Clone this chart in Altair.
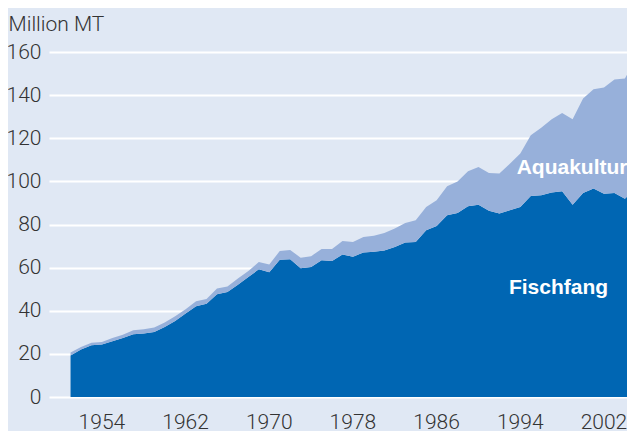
import altair as alt
import pandas as pd

years = list(range(1950, 2005))
fischfang = [19.3, 22.0, 24.0, 24.3, 25.8, 27.4, 29.1, 29.4, 30.2, 32.5,
             35.3, 38.7, 42.1, 43.2, 47.6, 48.7, 52.1, 55.7, 59.2, 57.8,
             63.7, 63.9, 59.7, 60.3, 63.4, 63.1, 66.1, 65.1, 67.0, 67.4,
             68.0, 69.6, 71.6, 71.9, 77.3, 79.3, 84.3, 85.3, 88.5, 89.2,
             86.4, 85.1, 86.6, 88.1, 93.2, 93.6, 94.8, 95.4, 89.2, 94.6,
             96.7, 94.3, 94.6, 92.0, 96.2]
aquakultur = [1.3, 1.2, 1.2, 1.2, 1.6, 1.5, 1.8, 2.0, 2.0, 2.0,
              2.1, 2.0, 2.3, 2.3, 2.7, 2.6, 2.8, 2.7, 3.4, 3.6,
              4.0, 4.3, 4.9, 5.0, 5.2, 5.5, 6.2, 6.8, 7.2, 7.4,
              8.1, 8.5, 9.1, 10.1, 10.8, 11.9, 13.4, 14.7, 16.2, 17.5,
              17.5, 18.6, 21.6, 24.8, 28.2, 31.3, 34.0, 36.3, 39.6, 43.8,
              46.0, 49.2, 52.6, 55.7, 60.0]
series = ["Fischfang", "Aquakultur"]
tick_years = [1954, 1962, 1970, 1978, 1986, 1994, 2002]
y_ticks = [0, 20, 40, 60, 80, 100, 120, 140, 160]

rows = []
for i, yr in enumerate(years):
    rows.append({"Jahr": yr, "Serie": "Fischfang", "Wert": fischfang[i], "ord": 0})
    rows.append({"Jahr": yr, "Serie": "Aquakultur", "Wert": aquakultur[i], "ord": 1})
df = pd.DataFrame(rows)

labels = pd.DataFrame({
    "Jahr": [1996.65, 1992.65],
    "Wert": [47.6, 103.3],
    "text": ["Fischfang", "Aquakultur"],
})

x_scale = alt.Scale(domain=[1947.94, 2003.2], nice=False, zero=False)
y_scale = alt.Scale(domain=[0, 160], nice=False)

area = alt.Chart(df).mark_area(interpolate="linear", clip=True).encode(
    x=alt.X("Jahr:Q", scale=x_scale,
            axis=alt.Axis(values=tick_years, format="d", title=None, grid=False,
                          ticks=False, domain=False, labelFontSize=21,
                          labelFont="Roboto", labelFontWeight=300,
                          labelColor="#333333", labelBaseline="alphabetic",
                          labelPadding=31, labelOffset=-11, labelFlush=False)),
    y=alt.Y("Wert:Q", stack="zero", scale=y_scale,
            axis=alt.Axis(values=y_ticks, title="Million MT", grid=True,
                          gridColor="#ffffff", gridWidth=2, gridOpacity=1,
                          ticks=False, domain=False, labelFontSize=21,
                          labelFont="Roboto", labelFontWeight=300,
                          labelColor="#333333", labelPadding=8,
                          labelOverlap=False,
                          titleAngle=0, titleAlign="left", titleBaseline="alphabetic",
                          titleX=-41, titleY=-22, titleFontSize=21,
                          titleFont="Roboto", titleFontWeight=300,
                          titleColor="#333333")),
    color=alt.Color("Serie:N", scale=alt.Scale(domain=series, range=["#0066b3", "#97b0da"]),
                    legend=None),
    order=alt.Order("ord:Q", sort="ascending"),
)

text_f = alt.Chart(labels.iloc[[0]]).mark_text(
    font="Liberation Sans", fontWeight="bold", fontSize=21, color="white",
    align="center", baseline="alphabetic"
).encode(x=alt.X("Jahr:Q", scale=x_scale), y=alt.Y("Wert:Q", scale=y_scale), text="text:N")

text_a = alt.Chart(labels.iloc[[1]]).mark_text(
    font="Liberation Sans", fontWeight="bold", fontSize=21, color="white",
    align="left", baseline="alphabetic"
).encode(x=alt.X("Jahr:Q", scale=x_scale), y=alt.Y("Wert:Q", scale=y_scale), text="text:N")

chart = alt.layer(area, text_f, text_a).properties(
    width=578, height=345,
    autosize=alt.AutoSizeParams(type="none"),
    padding={"left": 41, "top": 44, "right": 0, "bottom": 34},
    background="#e0e8f4",
).configure_view(stroke=None, fill="#e0e8f4")

chart.save("out.html", embed_options={"renderer": "svg", "actions": False})
